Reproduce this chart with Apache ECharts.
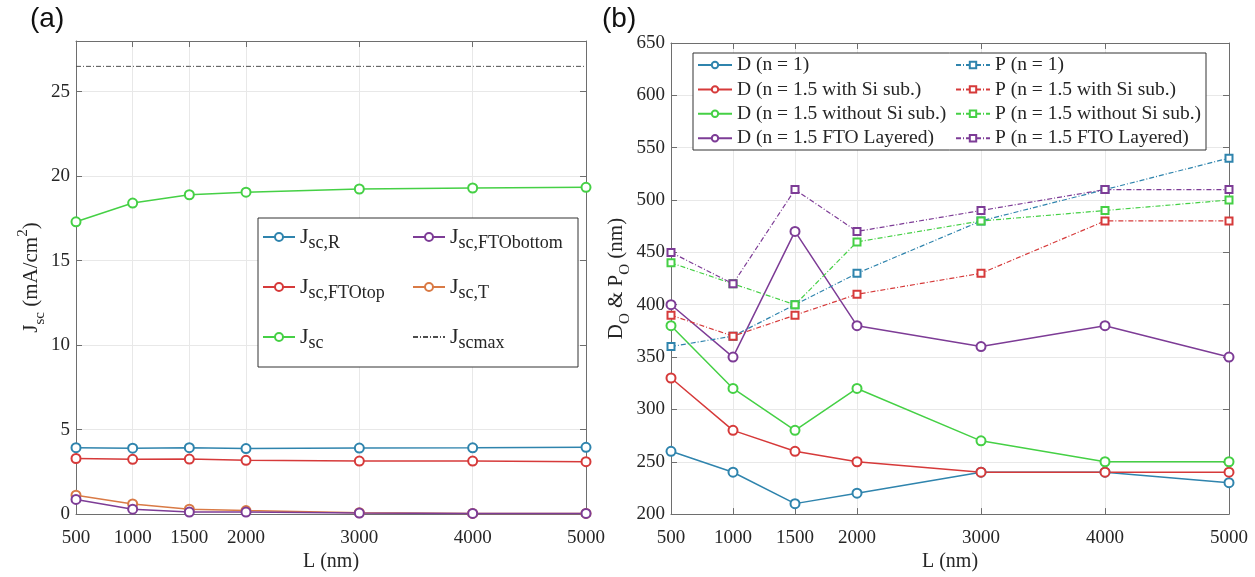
<!DOCTYPE html>
<html>
<head>
<meta charset="utf-8">
<script src="https://cdn.jsdelivr.net/npm/echarts@6/dist/echarts.min.js"></script>
<style>
  html, body { margin: 0; background: #fff; }
  #chart { width: 1255px; height: 577px; }
</style>
</head>
<body>
<div id="chart"></div>
<script>
// shared x positions (nm)
const L_NM = [500, 1000, 1500, 2000, 3000, 4000, 5000];
const Y_TICKS_A = [0, 5, 10, 15, 20, 25];
const Y_TICKS_B = [200, 250, 300, 350, 400, 450, 500, 550, 600, 650];

// (a) short-circuit current density, mA/cm2
const JSC_R = [3.93, 3.90, 3.93, 3.88, 3.91, 3.92, 3.95];
const JSC_FTO_TOP = [3.29, 3.24, 3.26, 3.18, 3.14, 3.14, 3.10];
const JSC_FTO_BOTTOM = [0.87, 0.29, 0.12, 0.12, 0.06, 0.04, 0.04];
const JSC_T = [1.12, 0.60, 0.29, 0.21, 0.08, 0.04, 0.04];
const JSC = [17.3, 18.41, 18.9, 19.05, 19.24, 19.3, 19.34];
const JSC_MAX = [26.5, 26.5, 26.5, 26.5, 26.5, 26.5, 26.5];

// (b) D_O and P_O, nm
const D_N1 = [260, 240, 210, 220, 240, 240, 230];
const D_SI = [330, 280, 260, 250, 240, 240, 240];
const D_NOSI = [380, 320, 280, 320, 270, 250, 250];
const D_FTO = [400, 350, 470, 380, 360, 380, 350];
const P_N1 = [360, 370, 400, 430, 480, 510, 540];
const P_SI = [390, 370, 390, 410, 430, 480, 480];
const P_NOSI = [440, 420, 400, 460, 480, 490, 500];
const P_FTO = [450, 420, 510, 470, 490, 510, 510];

const SERIF = 'Liberation Serif';
const INK = '#262626';
const AXIS = '#6e6e6e';
const GRIDLINE = '#e8e8e8';
const C = {
  blue: '#2f84ad',
  red: '#d63a3a',
  green: '#45d045',
  purple: '#7d3c96',
  orange: '#d97a45',
};
const DASHDOT = [5, 2, 1, 2];

const chart = echarts.init(document.getElementById('chart'), null, { renderer: 'canvas' });

const pts = (arr) => L_NM.map((x, i) => [x, arr[i]]);
const plain = (v) => String(v);

function lineSeries(name, arr, color, gi, opts = {}) {
  return {
    name,
    type: 'line',
    xAxisIndex: gi * 2,
    yAxisIndex: gi * 2,
    data: pts(arr),
    symbol: opts.symbol || 'emptyCircle',
    symbolSize: opts.size || 9,
    showSymbol: opts.symbol !== 'none',
    itemStyle: { color, borderWidth: 1.3 },
    lineStyle: { color, width: opts.width || 1.5, type: opts.dash || 'solid' },
    emphasis: { disabled: true },
    z: opts.z || 3,
  };
}

function xAxes(gi) {
  const base = {
    gridIndex: gi,
    type: 'value',
    min: 500,
    max: 5000,
    axisLine: { show: true, onZero: false, lineStyle: { color: AXIS, width: 1 } },
    axisTick: { show: true, inside: true, length: 6, customValues: L_NM, lineStyle: { color: AXIS } },
  };
  return [
    {
      ...base,
      position: 'bottom',
      axisLabel: { customValues: L_NM, formatter: plain, color: INK, fontFamily: SERIF, fontSize: 19, margin: 14 },
      splitLine: { show: true, lineStyle: { color: GRIDLINE } },
      name: 'L (nm)',
      nameLocation: 'middle',
      nameGap: 34,
      nameTextStyle: { color: INK, fontFamily: SERIF, fontSize: 20 },
    },
    { ...base, position: 'top', axisLabel: { show: false }, splitLine: { show: false } },
  ];
}

function yAxes(gi, min, max, ticks, name, nameGap) {
  const base = {
    gridIndex: gi,
    type: 'value',
    min,
    max,
    axisLine: { show: true, onZero: false, lineStyle: { color: AXIS, width: 1 } },
    axisTick: { show: true, inside: true, length: 6, customValues: ticks, lineStyle: { color: AXIS } },
  };
  return [
    {
      ...base,
      position: 'left',
      axisLabel: { customValues: ticks, formatter: plain, color: INK, fontFamily: SERIF, fontSize: 19, margin: 6 },
      splitLine: { show: true, lineStyle: { color: GRIDLINE } },
      name,
      nameLocation: 'middle',
      nameGap,
      nameRotate: 90,
      nameTextStyle: {
        color: INK,
        rich: {
          m: { fontFamily: SERIF, fontSize: 21, lineHeight: 32, color: INK },
          s: { fontFamily: SERIF, fontSize: 15, lineHeight: 15, verticalAlign: 'bottom', color: INK },
          p: { fontFamily: SERIF, fontSize: 15, lineHeight: 15, verticalAlign: 'top', color: INK },
        },
      },
    },
    { ...base, position: 'right', axisLabel: { show: false }, splitLine: { show: false } },
  ];
}

const richLegendText = {
  color: INK,
  rich: {
    m: { fontFamily: SERIF, fontSize: 22, lineHeight: 30, color: INK },
    s: { fontFamily: SERIF, fontSize: 18, lineHeight: 18, verticalAlign: 'bottom', color: INK },
  },
};
const subFormatter = (name) => {
  const [m, s] = name.split('_');
  return s ? `{m|${m}}{s|${s}}` : `{m|${m}}`;
};

const legendA = (left, names) => ({
  orient: 'vertical',
  left,
  top: 226,
  itemWidth: 32,
  itemHeight: 10,
  itemGap: 24,
  padding: 0,
  data: names,
  formatter: subFormatter,
  textStyle: richLegendText,
  selectedMode: false,
});

const legendB = (left, names) => ({
  orient: 'vertical',
  left,
  top: 55,
  itemWidth: 34,
  itemHeight: 8,
  itemGap: 4.4,
  padding: 0,
  data: names,
  textStyle: { color: INK, fontFamily: SERIF, fontSize: 19.5, lineHeight: 20 },
  selectedMode: false,
});

chart.setOption({
  animation: false,
  backgroundColor: '#ffffff',
  grid: [
    { left: 76, top: 41, width: 510, height: 482 },
    { left: 671, top: 43, width: 558, height: 480 },
  ],
  xAxis: [...xAxes(0), ...xAxes(1)],
  yAxis: [
    ...yAxes(0, 0, 28, Y_TICKS_A, '{m|J}{s|sc}{m| (mA/cm}{p|2}{m|)}', 27),
    ...yAxes(1, 200, 650, Y_TICKS_B, '{m|D}{s|O}{m| & P}{s|O}{m| (nm)}', 34),
  ],
  legend: [
    legendA(262, ['J_sc,R', 'J_sc,FTOtop', 'J_sc']),
    legendA(412, ['J_sc,FTObottom', 'J_sc,T', { name: 'J_scmax', itemStyle: { opacity: 0 } }]),
    legendB(697, ['D (n = 1)', 'D (n = 1.5 with Si sub.)', 'D (n = 1.5 without Si sub.)', 'D (n = 1.5 FTO Layered)']),
    legendB(955, ['P (n = 1)', 'P (n = 1.5 with Si sub.)', 'P (n = 1.5 without Si sub.)', 'P (n = 1.5 FTO Layered)']),
  ],
  graphic: [
    { type: 'text', left: 30, top: 5, style: { text: '(a)', font: '28px "Liberation Sans"', fill: '#111' } },
    { type: 'text', left: 602, top: 5, style: { text: '(b)', font: '28px "Liberation Sans"', fill: '#111' } },
    { type: 'rect', shape: { x: 258, y: 218, width: 320, height: 149 }, style: { fill: '#fff', stroke: '#333', lineWidth: 1 }, z: 4 },
    { type: 'rect', shape: { x: 693, y: 53, width: 513, height: 97 }, style: { fill: '#fff', stroke: '#333', lineWidth: 1 }, z: 4 },
  ],
  series: [
    lineSeries('J_scmax', JSC_MAX, '#4d4d4d', 0, { symbol: 'none', dash: DASHDOT, width: 1 }),
    lineSeries('J_sc,R', JSC_R, C.blue, 0),
    lineSeries('J_sc,FTOtop', JSC_FTO_TOP, C.red, 0),
    lineSeries('J_sc,T', JSC_T, C.orange, 0),
    lineSeries('J_sc,FTObottom', JSC_FTO_BOTTOM, C.purple, 0),
    lineSeries('J_sc', JSC, C.green, 0),

    lineSeries('D (n = 1)', D_N1, C.blue, 1),
    lineSeries('D (n = 1.5 with Si sub.)', D_SI, C.red, 1),
    lineSeries('D (n = 1.5 without Si sub.)', D_NOSI, C.green, 1),
    lineSeries('D (n = 1.5 FTO Layered)', D_FTO, C.purple, 1),
    lineSeries('P (n = 1)', P_N1, C.blue, 1, { symbol: 'emptyRect', size: 7, dash: DASHDOT, width: 1.2 }),
    lineSeries('P (n = 1.5 with Si sub.)', P_SI, C.red, 1, { symbol: 'emptyRect', size: 7, dash: DASHDOT, width: 1.2 }),
    lineSeries('P (n = 1.5 without Si sub.)', P_NOSI, C.green, 1, { symbol: 'emptyRect', size: 7, dash: DASHDOT, width: 1.2 }),
    lineSeries('P (n = 1.5 FTO Layered)', P_FTO, C.purple, 1, { symbol: 'emptyRect', size: 7, dash: DASHDOT, width: 1.2 }),
  ],
});
</script>
</body>
</html>
